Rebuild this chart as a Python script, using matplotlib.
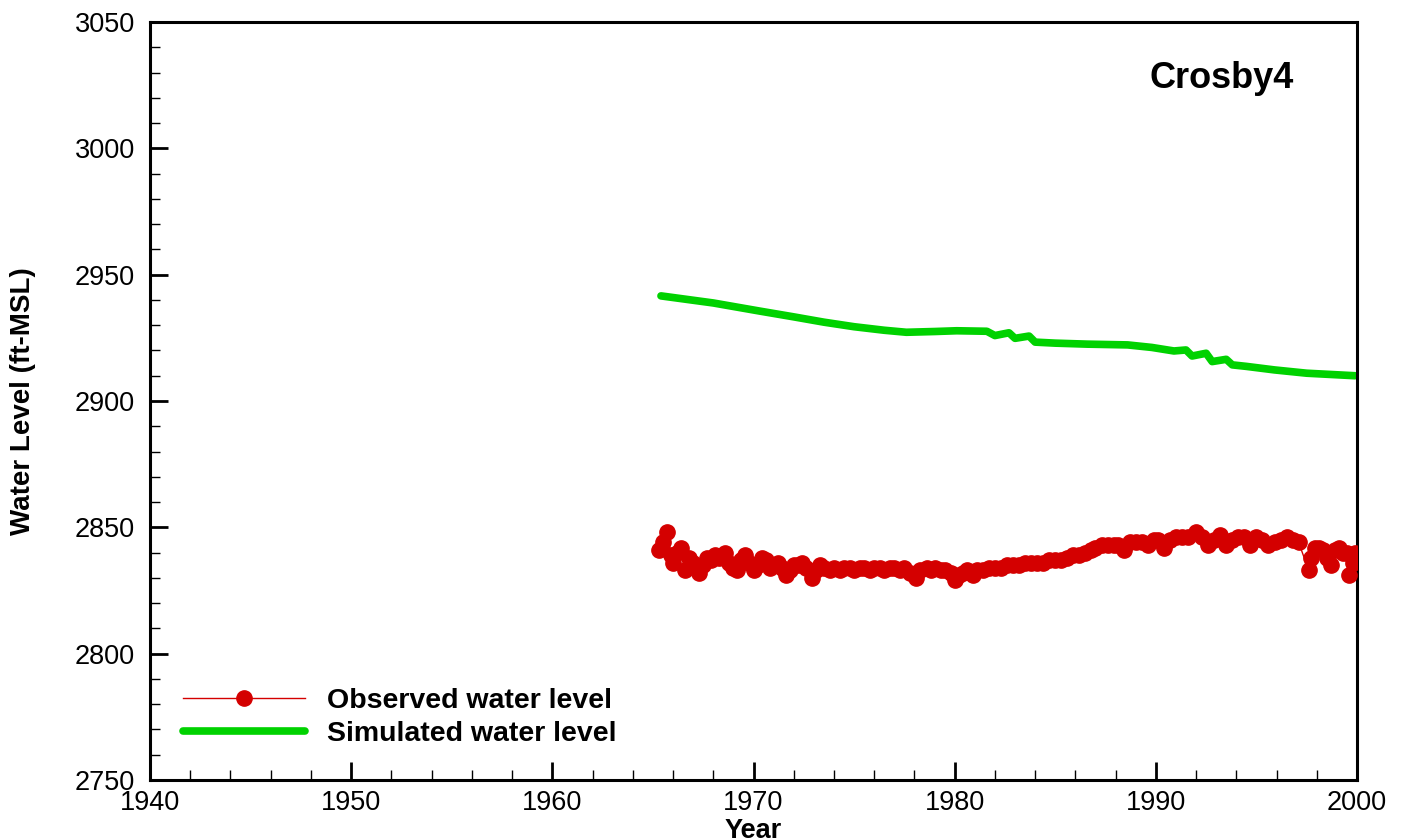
import matplotlib
matplotlib.use("Agg")
import matplotlib.pyplot as plt
from matplotlib.ticker import MultipleLocator

plt.rcParams['font.family'] = ['Liberation Sans', 'DejaVu Sans']

# simulated water level (ft-MSL)
sim_year = [1965.4, 1968.0, 1970.3, 1972.0, 1973.5, 1975.0, 1976.5, 1977.6, 1979.0,
            1980.1, 1981.6, 1982.0, 1982.7, 1983.0, 1983.7, 1984.0, 1985.0, 1986.6,
            1988.6, 1989.8, 1990.9, 1991.5, 1991.8, 1992.5, 1992.8, 1993.5, 1993.8,
            1994.5, 1995.9, 1997.5, 1999.9]
sim_level = [2941.6, 2938.8, 2935.6, 2933.3, 2931.2, 2929.4, 2928.0, 2927.2, 2927.5,
             2927.8, 2927.6, 2925.9, 2927.0, 2924.8, 2925.7, 2923.3, 2922.9, 2922.5,
             2922.2, 2921.2, 2919.8, 2920.2, 2917.8, 2918.9, 2915.6, 2916.5, 2914.3,
             2913.7, 2912.3, 2911.0, 2910.0]

# observed water level
obs_year = [1965.3, 1965.5, 1965.7, 1965.9, 1966.0, 1966.2, 1966.4, 1966.6, 1966.8, 1967.0,
            1967.3, 1967.5, 1967.7, 1967.9, 1968.1, 1968.3, 1968.6, 1968.8, 1969.0, 1969.2,
            1969.4, 1969.6, 1969.8, 1970.0, 1970.2, 1970.4, 1970.6, 1970.8, 1971.0, 1971.2,
            1971.4, 1971.6, 1971.8, 1972.0, 1972.2, 1972.4, 1972.6, 1972.9, 1973.1, 1973.3,
            1973.5, 1973.8, 1974.0, 1974.3, 1974.5, 1974.8, 1975.0, 1975.3, 1975.5, 1975.8,
            1976.0, 1976.3, 1976.5, 1976.8, 1977.0, 1977.3, 1977.5, 1977.8, 1978.1, 1978.3,
            1978.6, 1978.8, 1979.0, 1979.3, 1979.5, 1979.8, 1980.0, 1980.2, 1980.4, 1980.6,
            1980.9, 1981.1, 1981.4, 1981.7, 1982.0, 1982.3, 1982.6, 1982.9, 1983.2, 1983.5,
            1983.8, 1984.1, 1984.4, 1984.7, 1985.0, 1985.3, 1985.6, 1985.9, 1986.2, 1986.5,
            1986.8, 1987.0, 1987.3, 1987.6, 1987.9, 1988.1, 1988.4, 1988.7, 1989.0, 1989.3,
            1989.6, 1989.9, 1990.1, 1990.4, 1990.7, 1991.0, 1991.3, 1991.6, 1992.0, 1992.3,
            1992.6, 1992.9, 1993.2, 1993.5, 1993.8, 1994.1, 1994.4, 1994.7, 1995.0, 1995.3,
            1995.6, 1995.9, 1996.2, 1996.5, 1996.8, 1997.1, 1997.6, 1997.7, 1997.9, 1998.1,
            1998.3, 1998.5, 1998.7, 1998.9, 1999.1, 1999.3, 1999.5, 1999.6, 1999.8, 1999.9]
obs_level = [2841, 2844, 2848, 2839, 2836, 2840, 2842, 2833, 2838, 2836,
             2832, 2835, 2838, 2837, 2839, 2838, 2840, 2836, 2834, 2833,
             2837, 2839, 2836, 2833, 2835, 2838, 2837, 2834, 2835, 2836,
             2834, 2831, 2833, 2835, 2835, 2836, 2834, 2830, 2833, 2835,
             2834, 2833, 2834, 2833, 2834, 2834, 2833, 2834, 2834, 2833,
             2834, 2834, 2833, 2834, 2834, 2833, 2834, 2832, 2830, 2833,
             2834, 2833, 2834, 2833, 2833, 2832, 2829, 2831, 2832, 2833,
             2831, 2833, 2833, 2834, 2834, 2834, 2835, 2835, 2835, 2836,
             2836, 2836, 2836, 2837, 2837, 2837, 2838, 2839, 2839, 2840,
             2841, 2842, 2843, 2843, 2843, 2843, 2841, 2844, 2844, 2844,
             2843, 2845, 2845, 2842, 2845, 2846, 2846, 2846, 2848, 2846,
             2843, 2845, 2847, 2843, 2845, 2846, 2846, 2843, 2846, 2845,
             2843, 2844, 2845, 2846, 2845, 2844, 2833, 2838, 2842, 2842,
             2841, 2838, 2835, 2841, 2842, 2840, 2840, 2831, 2836, 2840]

red = '#d40000'
green = '#00d200'

fig = plt.figure(figsize=(14.07, 8.4), dpi=100)
ax = fig.add_axes([150/1407, 60/840, 1207/1407, 758/840])

ax.plot(obs_year, obs_level, color=red, lw=1, marker='o', ms=11,
        mec=red, mfc=red, label='Observed water level', zorder=3)
ax.plot(sim_year, sim_level, color=green, lw=5.5, solid_capstyle='round',
        label='Simulated water level', zorder=2)

ax.set_xlim(1940, 2000)
ax.set_ylim(2750, 3050)
ax.xaxis.set_major_locator(MultipleLocator(10))
ax.xaxis.set_minor_locator(MultipleLocator(2))
ax.yaxis.set_major_locator(MultipleLocator(50))
ax.yaxis.set_minor_locator(MultipleLocator(10))

ax.tick_params(which='major', direction='in', length=13, width=2, labelsize=19.5)
ax.tick_params(which='minor', direction='in', length=7.5, width=1)
ax.tick_params(axis='x', which='major', pad=7)
ax.tick_params(axis='y', which='major', pad=11)
for s in ax.spines.values():
    s.set_linewidth(2.2)

ax.set_xlabel('Year', fontsize=19.5, fontweight='bold', labelpad=2)
ax.set_ylabel('Water Level (ft-MSL)', fontsize=20, fontweight='bold', labelpad=28)

ax.text(0.948, 0.913, 'Crosby4', transform=ax.transAxes, ha='right', va='baseline',
        fontsize=26, fontweight='bold')

leg = ax.legend(loc='lower left', bbox_to_anchor=(0.006, 0.01), frameon=False,
                handlelength=4.3, handletextpad=0.75, labelspacing=0.25,
                numpoints=1, prop={'size': 20.5, 'weight': 'bold'})

fig.savefig('out.png', dpi=100)
